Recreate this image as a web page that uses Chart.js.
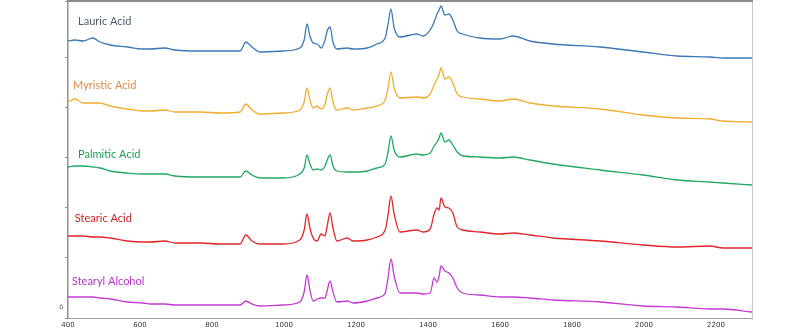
<!DOCTYPE html>
<html>
<head>
<meta charset="utf-8">
<script src="https://cdn.jsdelivr.net/npm/chart.js@4/dist/chart.umd.min.js"></script>
<style>
  html, body { margin: 0; padding: 0; background: #fff; }
  #wrap { width: 800px; height: 331px; }
</style>
</head>
<body>
<div id="wrap"><canvas id="canvas" width="800" height="331"></canvas></div>
<script>
// Raman shift (cm-1), shared by every spectrum
const wavenumber = [400, 419, 442, 469, 489, 517, 564, 608, 628, 669, 697, 767, 822, 878, 894, 911, 933, 997, 1044, 1056, 1064, 1072, 1081, 1092, 1103, 1114, 1119, 1128, 1136, 1147, 1175, 1192, 1231, 1258, 1281, 1289, 1297, 1306, 1322, 1369, 1386, 1406, 1417, 1425, 1431, 1436, 1447, 1458, 1469, 1481, 1497, 1544, 1600, 1636, 1683, 1747, 1878, 1997, 2092, 2183, 2219, 2300];

// stacked intensities (offset spectra)
const lauric = [266, 267, 266, 269, 265, 262, 260, 258, 258, 259, 257, 256, 256, 256, 265, 260, 255, 256, 259, 267, 283, 271, 264, 263, 259, 267, 275, 280, 265, 258, 259, 258, 259, 263, 269, 283, 298, 279, 270, 273, 271, 277, 285, 293, 297, 301, 292, 293, 287, 276, 273, 269, 268, 271, 266, 263, 260, 255, 251, 250, 249, 249];
const myristic = [205, 208, 204, 204, 204, 201, 198, 196, 196, 197, 195, 195, 194, 195, 203, 197, 193, 194, 197, 205, 219, 207, 199, 201, 198, 203, 211, 219, 205, 197, 199, 197, 199, 201, 207, 219, 235, 219, 209, 210, 209, 213, 222, 228, 233, 239, 228, 230, 224, 213, 210, 208, 206, 208, 204, 201, 198, 192, 189, 188, 186, 185];
const palmitic = [140, 141, 141, 140, 139, 136, 134, 133, 133, 133, 131, 130, 130, 130, 136, 132, 129, 129, 133, 139, 152, 143, 137, 138, 137, 141, 146, 152, 141, 136, 135, 135, 136, 139, 143, 155, 171, 157, 150, 153, 152, 154, 161, 165, 169, 174, 165, 167, 162, 155, 151, 150, 149, 150, 147, 143, 137, 132, 127, 125, 124, 122];
const stearic = [71, 71, 71, 70, 70, 69, 66, 65, 65, 66, 64, 64, 63, 63, 72, 66, 63, 63, 67, 77, 93, 79, 69, 66, 73, 71, 79, 94, 79, 66, 69, 66, 67, 70, 77, 92, 111, 93, 75, 77, 75, 78, 93, 99, 97, 109, 100, 99, 94, 80, 77, 75, 73, 74, 72, 69, 66, 62, 60, 61, 59, 59];
const stearyl = [10, 10, 10, 10, 9, 8, 5, 4, 3, 3, 2, 2, 2, 2, 6, 3, 1, 2, 5, 15, 32, 17, 6, 8, 9, 9, 15, 26, 15, 5, 6, 4, 6, 9, 14, 29, 48, 31, 14, 14, 13, 14, 29, 25, 31, 41, 36, 34, 29, 19, 14, 12, 10, 10, 9, 7, 5, 1, 0, -2, -2, -5];

const names = ["Lauric Acid", "Myristic Acid", "Palmitic Acid", "Stearic Acid", "Stearyl Alcohol"];
const xTicks = [400, 600, 800, 1000, 1200, 1400, 1600, 1800, 2000, 2200];

const series = [lauric, myristic, palmitic, stearic, stearyl];
const lineColors = ["#3b79b6", "#f0ad2e", "#22a862", "#e0262b", "#c23ad2"];
const textColors = ["#4f5b6b", "#e08b48", "#1f9e58", "#cc2323", "#b633c8"];
// where each name sits (data coords, left edge / middle)
const labelAt = [[428, 286], [414, 222], [428, 153], [419, 89], [411, 26]];

const datasets = series.map((vals, i) => ({
  label: names[i],
  data: vals.map((v, j) => ({ x: wavenumber[j], y: v })),
  borderColor: lineColors[i],
  borderWidth: 1.3,
  pointRadius: 0,
  fill: false,
  cubicInterpolationMode: "monotone"
}));

const namePlugin = {
  id: "names",
  afterDatasetsDraw(chart) {
    const { ctx, scales: { x, y } } = chart;
    ctx.save();
    ctx.font = "11px Lato";
    ctx.textBaseline = "middle";
    names.forEach((n, i) => {
      ctx.fillStyle = textColors[i];
      ctx.fillText(n, x.getPixelForValue(labelAt[i][0]), y.getPixelForValue(labelAt[i][1]));
    });
    // the only y label shown is the zero
    ctx.font = "6px 'DejaVu Sans'";
    ctx.fillStyle = "#444";
    ctx.textAlign = "right";
    ctx.fillText("0", x.left - 5, y.getPixelForValue(0));
    ctx.restore();
  },
  afterDraw(chart) {
    const { ctx, chartArea: a } = chart;
    ctx.save();
    ctx.strokeStyle = "#c8c8c8";
    ctx.lineWidth = 1;
    ctx.beginPath();
    ctx.moveTo(a.right + 0.5, a.top);
    ctx.lineTo(a.right + 0.5, a.bottom);
    ctx.stroke();
    ctx.strokeStyle = "#8a8a8a";
    ctx.lineWidth = 2;
    ctx.beginPath();
    ctx.moveTo(a.left, a.top);
    ctx.lineTo(a.right + 1, a.top);
    ctx.stroke();
    ctx.restore();
  }
};

new Chart(document.getElementById("canvas").getContext("2d"), {
  type: "line",
  data: { datasets: datasets },
  options: {
    responsive: false,
    animation: false,
    layout: { padding: { top: 1, right: 48, left: 0, bottom: 0 } },
    plugins: { legend: { display: false }, tooltip: { enabled: false } },
    scales: {
      x: {
        type: "linear",
        min: 400,
        max: 2300,
        afterBuildTicks: (s) => { s.ticks = xTicks.map(v => ({ value: v })); },
        afterFit: (s) => { s.height = 13; },
        grid: { display: false, drawTicks: false },
        border: { display: true, color: "#a0a0a0", width: 1 },
        ticks: {
          font: { size: 7, family: "DejaVu Sans" },
          color: "#333",
          padding: 3,
          maxRotation: 0,
          callback: (v) => String(v)
        }
      },
      y: {
        min: -11,
        max: 306,
        afterFit: (s) => { s.width = 68; },
        grid: { drawOnChartArea: false, tickLength: 3, color: "#909090" },
        border: { display: true, color: "#909090", width: 1.5 },
        ticks: { display: false, stepSize: 50 }
      }
    }
  },
  plugins: [namePlugin]
});
</script>
</body>
</html>
